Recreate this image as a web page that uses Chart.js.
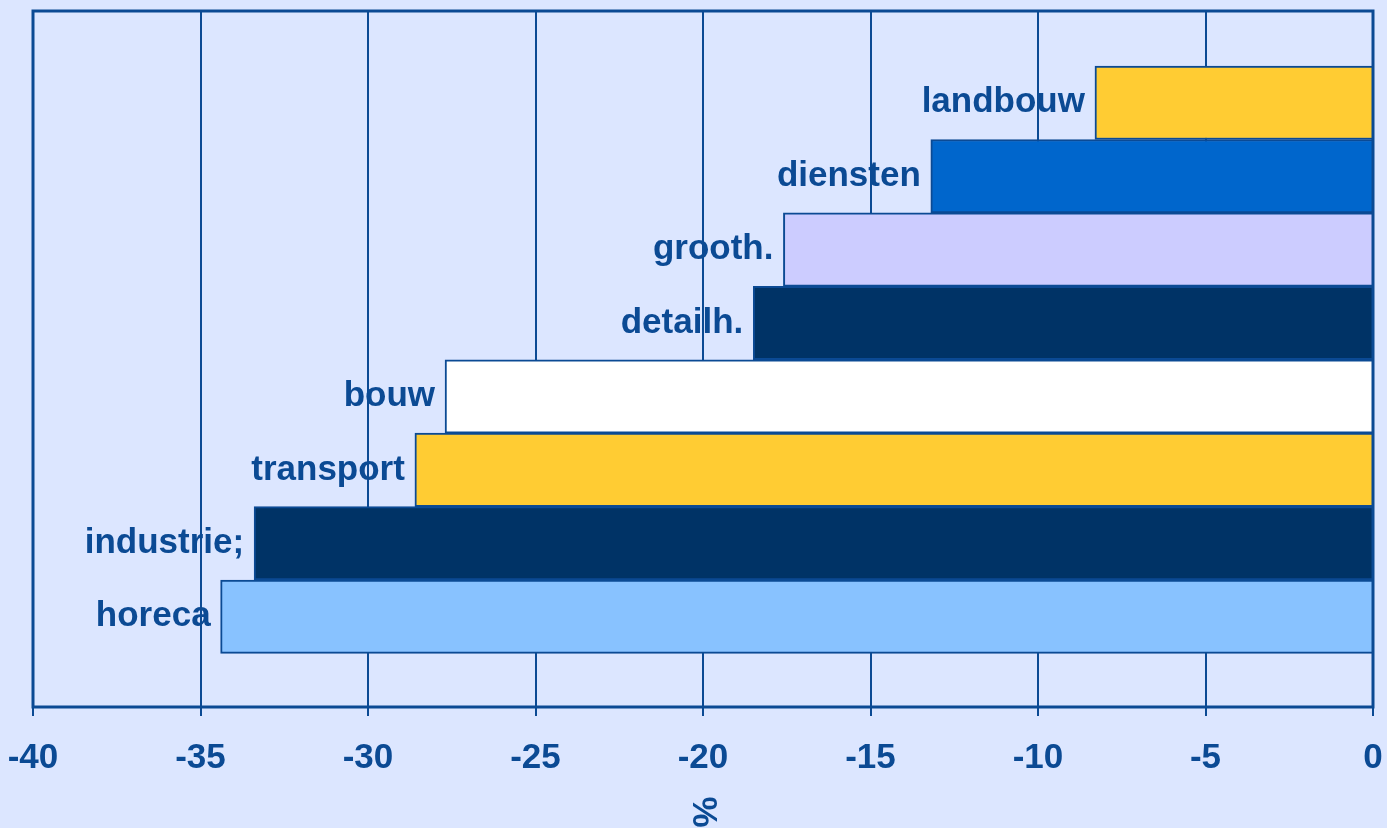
<!DOCTYPE html>
<html>
<head>
<meta charset="utf-8">
<script src="https://cdn.jsdelivr.net/npm/chart.js@4/dist/chart.umd.min.js"></script>
<style>
  html, body { margin: 0; padding: 0; background: #DCE6FF; }
  #wrap { width: 1387px; height: 828px; }
</style>
</head>
<body>
<div id="wrap"><canvas id="chart"></canvas></div>
<script>
// ==========================
// DATA
// ==========================
const categories = ["landbouw", "diensten", "grooth.", "detailh.", "bouw", "transport", "industrie;", "horeca"];
const values = [-8.3, -13.2, -17.6, -18.5, -27.7, -28.6, -33.4, -34.4];
const barColors = ["#FFCC33", "#0066CC", "#CCCCFF", "#003366", "#FFFFFF", "#FFCC33", "#003366", "#88C2FF"];
const xTicks = [-40, -35, -30, -25, -20, -15, -10, -5, 0];
const axisTitle = "%";

// ==========================
// STYLE
// ==========================
const INK = "#0B4A94";
const FONT = "'Liberation Sans', Arial, sans-serif";

// bar index positions (1 = top row)
const rows = categories.map((c, i) => i + 1);
const points = values.map((v, i) => ({ x: v, y: rows[i] }));

// category labels drawn left of each bar end, under the grid lines
const barLabels = {
  id: "barLabels",
  beforeDraw(chart) {
    const ctx = chart.ctx;
    const meta = chart.getDatasetMeta(0);
    ctx.save();
    ctx.font = "bold 35px " + FONT;
    ctx.fillStyle = INK;
    ctx.textAlign = "right";
    ctx.textBaseline = "middle";
    meta.data.forEach((bar, i) => {
      ctx.fillText(categories[i], bar.x - 10, bar.y);
    });
    ctx.restore();
  }
};

// frame round the plot area + rotated axis title
const frame = {
  id: "frame",
  afterDraw(chart) {
    const { ctx, chartArea } = chart;
    ctx.save();
    ctx.strokeStyle = INK;
    ctx.lineWidth = 3;
    ctx.strokeRect(chartArea.left, chartArea.top, chartArea.right - chartArea.left, chartArea.bottom - chartArea.top);
    const xs = chart.scales.x;
    ctx.translate(xs.getPixelForValue(-20), 812);
    ctx.rotate(Math.PI / 2);
    ctx.font = "bold 35px " + FONT;
    ctx.fillStyle = INK;
    ctx.textAlign = "center";
    ctx.textBaseline = "middle";
    ctx.fillText(axisTitle, 0, 0);
    ctx.restore();
  }
};

new Chart(document.getElementById("chart"), {
  type: "bar",
  data: {
    datasets: [{
      data: points,
      backgroundColor: barColors,
      borderColor: INK,
      borderWidth: 2,
      barPercentage: 1,
      categoryPercentage: 1
    }]
  },
  options: {
    indexAxis: "y",
    responsive: true,
    maintainAspectRatio: false,
    animation: false,
    layout: { padding: { left: 33, right: 14, top: 11, bottom: 28 } },
    plugins: { legend: { display: false }, tooltip: { enabled: false } },
    scales: {
      x: {
        type: "linear",
        min: -40,
        max: 0,
        afterBuildTicks: s => { s.ticks = xTicks.map(v => ({ value: v })); },
        grid: { color: INK, lineWidth: 2, tickLength: 9 },
        border: { color: INK, width: 2 },
        ticks: {
          color: INK,
          padding: 0,
          font: { family: FONT, size: 35, weight: "bold", lineHeight: 2.4 },
          maxRotation: 0
        }
      },
      y: {
        type: "linear",
        reverse: true,
        offset: false,
        min: -0.25,
        max: 9.23,
        display: false,
        grid: { offset: false },
        afterBuildTicks: s => { s.ticks = rows.map(v => ({ value: v })); }
      }
    }
  },
  plugins: [barLabels, frame]
});
</script>
</body>
</html>
